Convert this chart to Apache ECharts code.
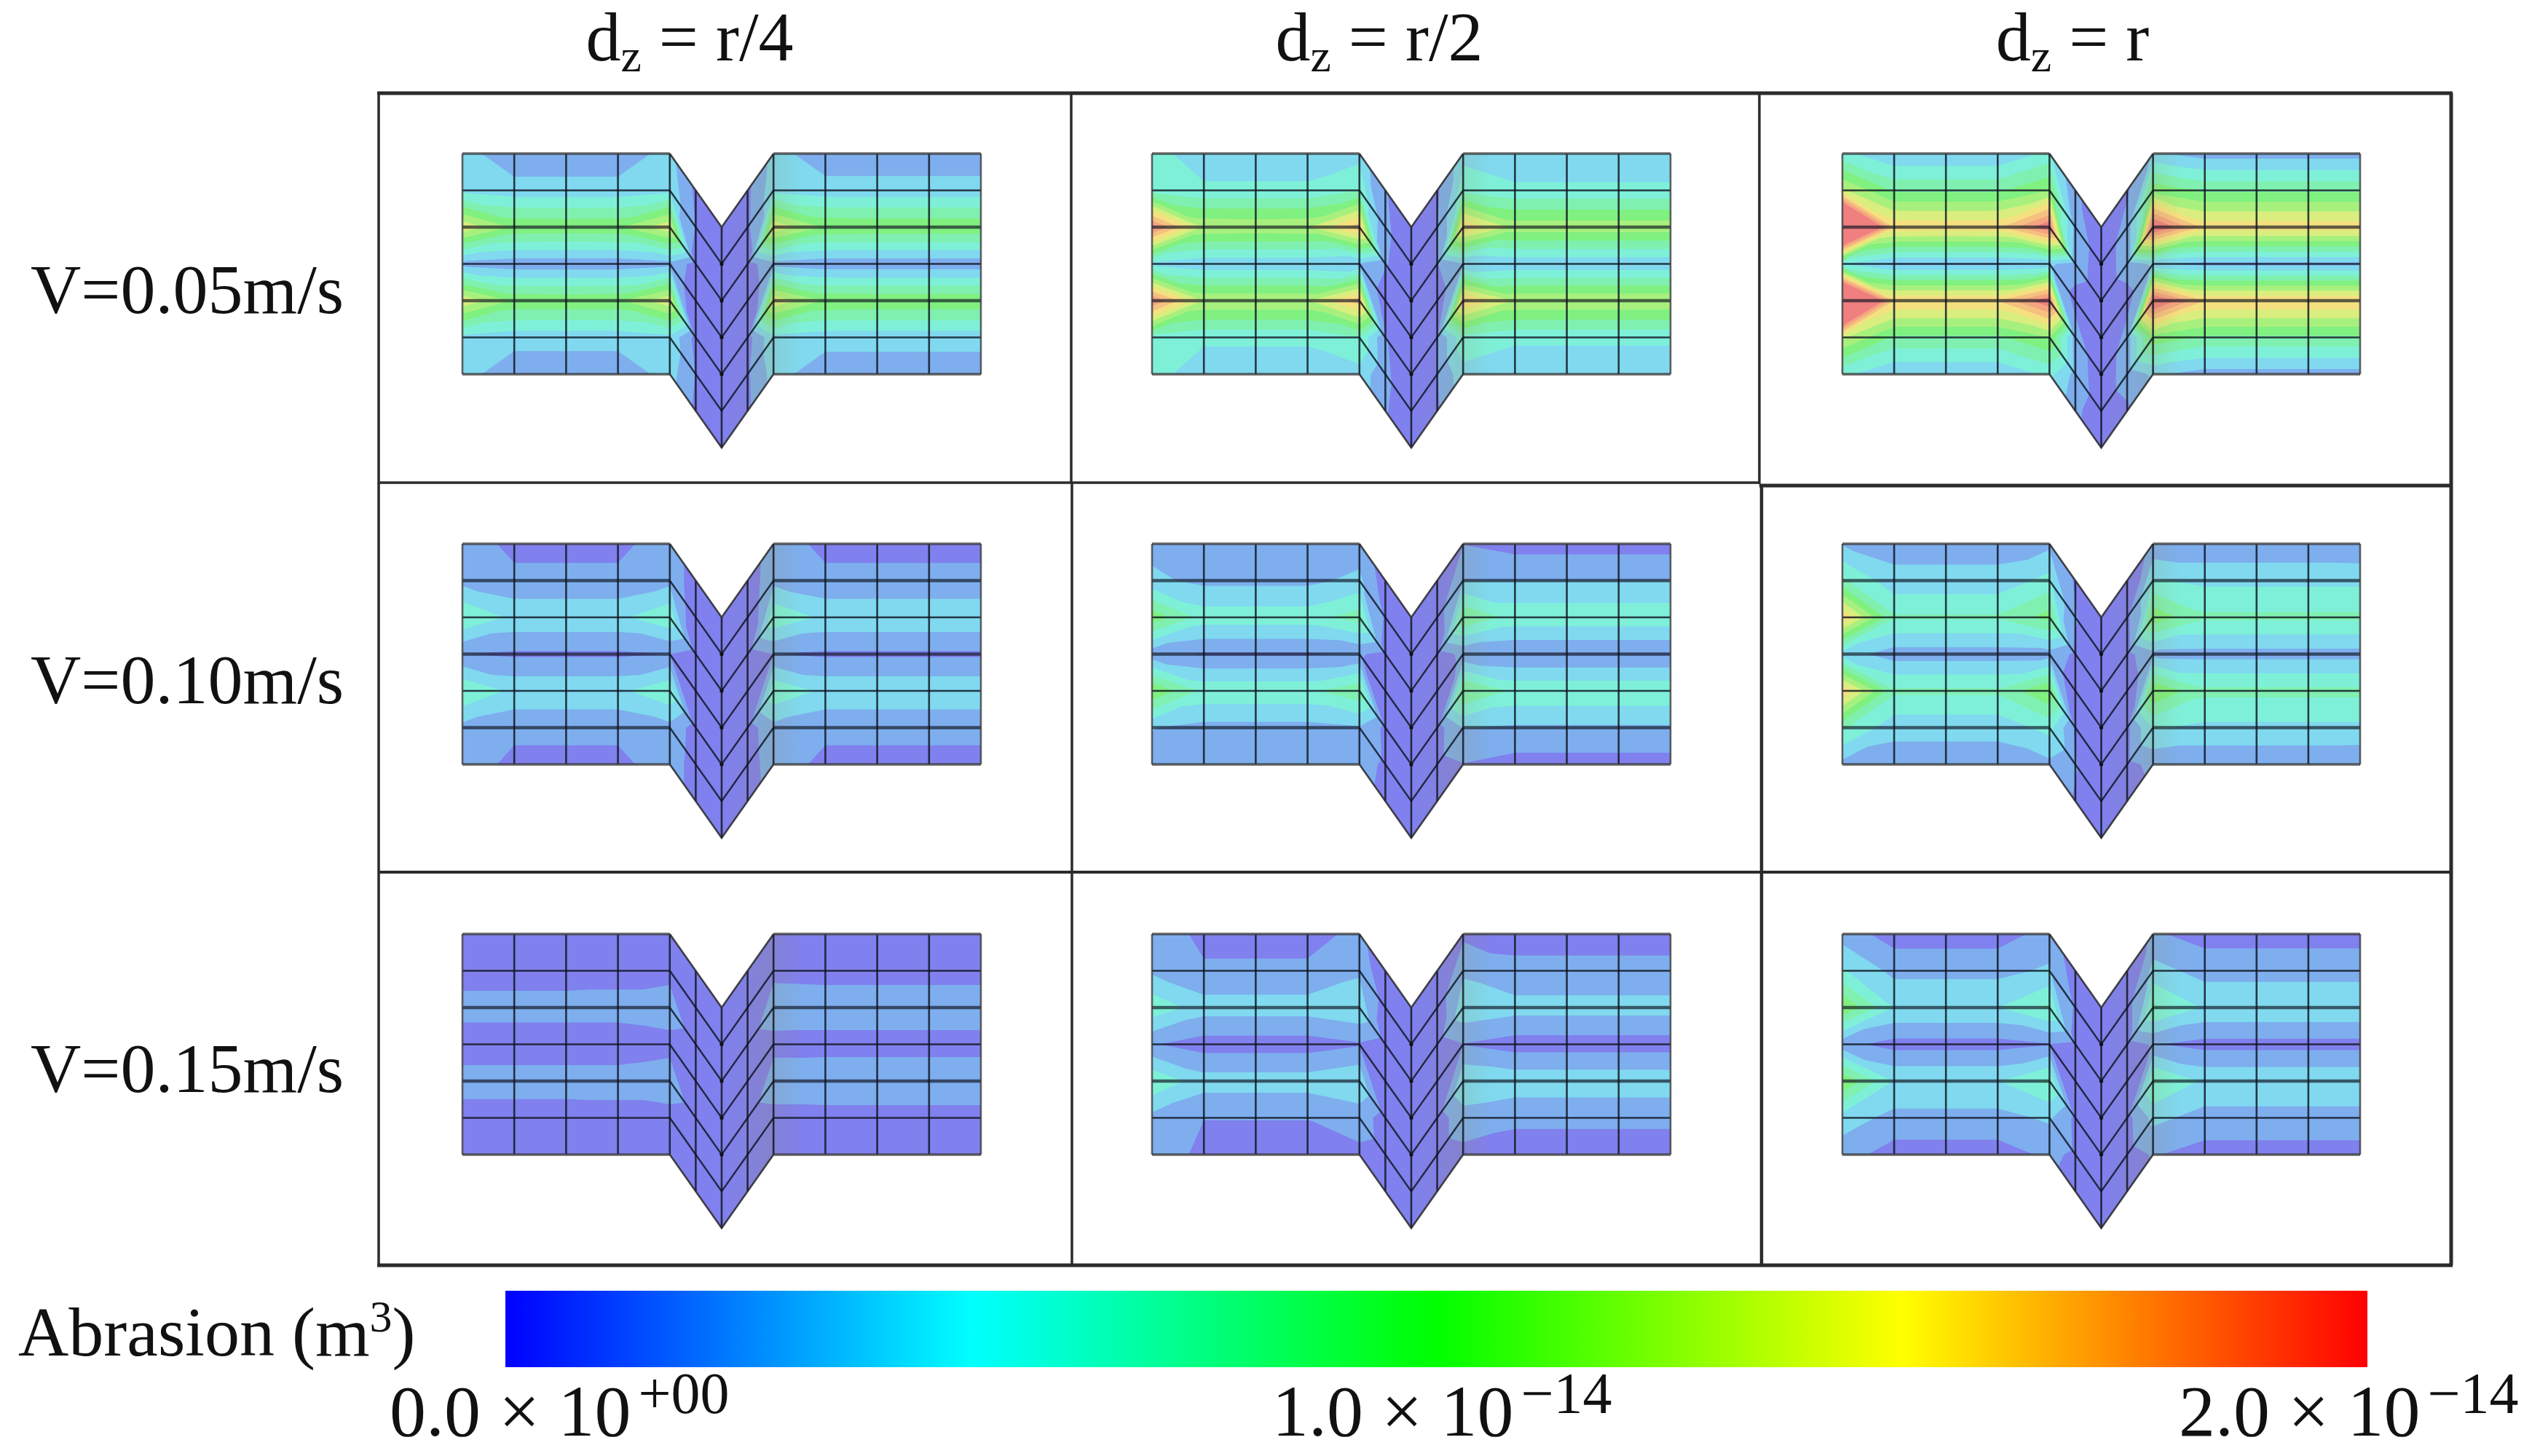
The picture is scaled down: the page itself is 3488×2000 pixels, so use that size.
<!DOCTYPE html>
<html>
<head>
<meta charset="utf-8">
<style>html,body{margin:0;padding:0;background:#fff}#c{width:3488px;height:2000px}</style>
<script src="https://cdn.jsdelivr.net/npm/echarts@6/dist/echarts.min.js"></script>
</head>
<body>
<div id="c"></div>
<script>
// ---------- labels ----------
const columnLabels = ['r/4', 'r/2', 'r'];
const rowLabels = ['V=0.05m/s', 'V=0.10m/s', 'V=0.15m/s'];
const legendTitle = 'Abrasion';
const colorbarTicks = [['0.0 × 10', '+00'], ['1.0 × 10', '−14'], ['2.0 × 10', '−14']];

// ---------- colour scale (abrasion in 1e-15 m^3) ----------
const scaleMax = 20;
const contourColors = ['#8080ee','#7eaeee','#80d9ef','#7ff0d8','#80f0b0','#80f080','#a8f07e','#d9ee7e','#f5e080','#f5c080','#f4a47f','#f08080'];
const colorbarStops = ['#0000ff','#00ffff','#00ff00','#ffff00','#ff0000'];

// ---------- mesh topology: node columns and the drop of each column at the V fold ----------
const meshU = [0,1,2,3,4,4.5,5,5.5,6,7,8,9,10];
const meshDrop = [0,0,0,0,0,1,2,1,0,0,0,0,0];

// ---------- nodal abrasion values, rows top to bottom, ×1e-15 m^3 ----------
const v005_r4 = [
 [4.0,2.2,2.2,2.2,4.0,1.3,.4,1.3,4.0,2.3,2.3,2.3,2.3],
 [4.6,4.0,4.0,4.0,4.6,1.6,.5,1.4,4.6,4.0,4.0,4.0,4.0],
 [13,9.7,9.6,9.7,13,1.1,.4,1.0,13,9.8,9.7,9.7,9.7],
 [2.8,2.2,2.2,2.2,2.8,.7,.3,.7,2.8,2.2,2.2,2.2,2.2],
 [13,9.7,9.6,9.7,13,1.1,.4,1.0,13,9.8,9.7,9.7,9.7],
 [4.6,4.0,4.0,4.0,4.6,1.6,.5,1.4,4.6,4.0,4.0,4.0,4.0],
 [4.0,2.2,2.2,2.2,4.0,1.3,.4,1.3,4.0,2.3,2.3,2.3,2.3]];
const v005_r2 = [
 [5.8,3.8,3.8,3.8,4.4,1.8,.5,1.4,4.4,3.6,3.6,3.6,3.6],
 [6.2,5.4,5.4,5.4,6.6,2.0,.6,1.6,6.2,5.4,5.4,5.4,5.4],
 [19,11.4,11.3,11.4,16,1.8,.5,1.6,15,11,11,11,11],
 [4.6,3.7,3.7,3.7,3.2,.9,.3,.9,3.2,3.7,3.7,3.7,3.7],
 [18.5,11.5,11.5,11.5,16,1.8,.5,1.6,15.5,11.5,11.5,11.5,11.5],
 [6.2,5.4,5.4,5.4,6.6,2.0,.6,1.6,6.2,5.4,5.4,5.4,5.4],
 [5.8,3.8,3.8,3.8,4.4,1.8,.5,1.4,4.4,3.6,3.6,3.6,3.6]];
const v005_r1 = [
 [5.5,3.5,3.5,3.5,5.5,2.0,.6,1.4,3.6,2.6,2.6,2.6,2.6],
 [12,8,8,8,10,2.8,.7,2.4,9.5,8,8,8,8],
 [32,14.6,14.5,14.6,20,2.6,.6,2.4,21,14.4,14.4,14.4,14.4],
 [5,3,3,3,3.6,1,.3,1,3.6,2.8,2.8,2.8,2.8],
 [32,15,15,15,20,2.6,.6,2.4,21,15,15,15,15],
 [12,8,8,8,10,2.8,.7,2.4,9.5,8,8,8,8],
 [5.5,3.5,3.5,3.5,5.5,2.0,.6,1.4,3.6,2.6,2.6,2.6,2.6]];
const v010_r4 = [
 [2.6,1.2,1.2,1.2,2.6,.9,.3,.7,2.6,1.2,1.2,1.2,1.2],
 [2.8,2.1,2.1,2.1,2.8,.9,.3,.8,2.8,2.1,2.1,2.1,2.1],
 [6.6,4.6,4.6,4.6,6.4,1.0,.3,.9,6.4,4.6,4.6,4.6,4.6],
 [1.7,1.4,1.4,1.4,1.7,.5,.2,.5,1.7,1.4,1.4,1.4,1.4],
 [6.6,4.6,4.6,4.6,6.4,1.0,.3,.9,6.4,4.6,4.6,4.6,4.6],
 [2.8,2.1,2.1,2.1,2.8,.9,.3,.8,2.8,2.1,2.1,2.1,2.1],
 [2.6,1.2,1.2,1.2,2.6,.9,.3,.7,2.6,1.2,1.2,1.2,1.2]];
const v010_r2 = [
 [2.8,2.2,2.2,2.2,2.3,1.2,.3,.8,1.6,1.0,1.0,1.0,1.0],
 [3.7,2.9,2.9,2.9,3.8,1.5,.4,1.1,3.3,3.3,3.3,3.3,3.3],
 [9.5,5.9,5.9,5.9,7.5,1.3,.4,1.0,8.2,6.1,6.1,6.1,6.1],
 [2.2,1.5,1.5,1.5,1.8,.7,.2,.7,2.0,1.6,1.6,1.6,1.6],
 [10,6.2,6.2,6.2,8,1.3,.4,1.0,8.6,6.3,6.3,6.3,6.3],
 [3.4,2.8,2.8,2.8,3.2,1.4,.4,1.1,3.4,3.1,3.1,3.1,3.1],
 [2.8,2.2,2.2,2.2,2.3,1.2,.3,.8,1.6,1.0,1.0,1.0,1.0]];
const v010_r1 = [
 [3.2,2.6,2.6,2.6,2.9,1.5,.4,.9,2.0,2.0,2.0,2.0,1.9],
 [7,3.9,3.9,3.9,5.6,1.8,.5,1.3,5.2,4.6,4.6,4.6,4.6],
 [15,6.9,6.9,6.9,9,1.4,.4,1.2,9.5,7,7,7,7],
 [4.2,2.5,2.5,2.5,2.6,.8,.3,.8,2.8,2.7,2.7,2.7,2.7],
 [15,7,7,7,10,1.4,.4,1.2,10,7.1,7.1,7.1,7.1],
 [7,3.9,3.9,3.9,5.6,1.8,.5,1.3,5.2,4.6,4.6,4.6,4.6],
 [2.8,2.4,2.4,2.4,2.9,1.5,.4,.9,2.0,2.0,2.0,2.0,1.9]];
const v015_r4 = [
 [.9,.8,.8,.8,.9,.5,.2,.5,.9,.8,.8,.8,.8],
 [.8,.8,.8,.9,.9,.5,.2,.5,1,.9,.9,.9,.9],
 [2.4,2.4,2.4,2.4,2.9,.7,.2,.7,3.0,2.9,2.9,2.9,2.9],
 [.6,.6,.6,.6,.9,.4,.2,.4,.9,.9,.9,.9,.9],
 [2.5,2.5,2.5,2.5,3,.7,.2,.7,3,3.1,3.1,3.1,3.1],
 [.8,.8,.8,.9,.9,.5,.2,.5,.9,.9,.9,.9,.9],
 [.9,.8,.8,.8,.9,.5,.2,.5,.9,.8,.8,.8,.8]];
const v015_r2 = [
 [2.8,1.2,1.2,1.2,2.0,.9,.3,.7,1.3,1.2,1.2,1.2,1.2],
 [3.0,1.9,1.9,1.9,3.0,1.2,.4,1,3.0,2.0,2.0,2.0,2.0],
 [6.2,4.1,4.1,4.1,4.8,1,.3,.9,4.6,4,4,4,4],
 [1.8,.9,.9,.9,1.5,.6,.2,.6,1.6,.9,.9,.9,.9],
 [6.4,4.1,4.1,4.1,4.8,1,.3,.9,4.8,4.4,4.4,4.4,4.4],
 [2.8,1.7,1.7,1.7,2.4,1.1,.3,.9,2.6,2.0,2.0,2.0,2.0],
 [2.8,1.2,1.2,1.2,1.3,.8,.2,.7,1.2,.9,.9,.9,.9]];
const v015_r1 = [
 [2.6,.9,.9,.9,2.3,1.1,.3,.8,1.9,1,1,1,1],
 [5.2,2.85,2.85,2.85,3.6,1.5,.4,1.1,4,2.7,2.7,2.7,2.7],
 [10,4.95,4.95,4.95,7,1.3,.4,1.1,7,4.8,4.8,4.8,4.8],
 [2.2,1.05,1.05,1.05,1.6,.7,.2,.7,1.8,1.1,1.1,1.1,1.1],
 [10,4.9,4.9,4.9,7,1.3,.4,1.1,7,4.7,4.7,4.7,4.7],
 [4.2,2.8,2.8,2.8,3.6,1.4,.4,1,3.8,2.7,2.7,2.7,2.7],
 [2.4,.9,.9,.9,2,1,.3,.8,1.8,1,1,1,1]];
const panelValues = [
 [v005_r4, v005_r2, v005_r1],
 [v010_r4, v010_r2, v010_r1],
 [v015_r4, v015_r2, v015_r1]];

// ---------- layout ----------
const FONT = '"Liberation Serif"';
const panelLeft = [635, 1582, 2530];
const panelWidth = [712, 712, 711];
const panelTop = [211, 747, 1283];
const panelHeight = 404;
const thickRows = [[2,4],[1,3,5],[2,4]];
const headerX = [947, 1894, 2846];
const rowLabelY = [405, 941, 1475];
const bar = {left: 694, top: 1773, width: 2557, height: 105};
const tickX = [535, 1747, 2992];
const frameSegments = [
 // x1,y1,x2,y2,width
 [518,128,3368,128,5],[520,663,2417,663,3.5],[2416,667,3368,667,5],[520,1198,3368,1198,4],[518,1738,3368,1738,5],
 [520,128,520,1738,3.5],[1471,128,1471,663,3.5],[1472,663,1472,1738,3.5],[2416,128,2416,665,3.5],[2419,665,2419,1738,4.5],[3366,128,3366,1738,5]
];

// ---------- contour construction: each element is split into two linear triangles ----------
const bandStep = scaleMax / contourColors.length;
const bandOf = v => Math.max(0, Math.min(contourColors.length - 1, Math.floor(v / bandStep)));
const f = n => n.toFixed(1);
function poly(pts){
  let s = 'M' + f(pts[0][0]) + ' ' + f(pts[0][1]);
  for (let i = 1; i < pts.length; i++) s += 'L' + f(pts[i][0]) + ' ' + f(pts[i][1]);
  return s + 'Z';
}
function clipAbove(tri, t){
  const out = [];
  for (let i = 0; i < tri.length; i++){
    const a = tri[i], b = tri[(i + 1) % tri.length];
    const ain = a[2] >= t, bin = b[2] >= t;
    if (ain) out.push(a);
    if (ain !== bin){
      const k = (t - a[2]) / (b[2] - a[2]);
      out.push([a[0] + k * (b[0] - a[0]), a[1] + k * (b[1] - a[1]), t]);
    }
  }
  return out;
}
function addTri(paths, tri){
  const vs = tri.map(p => p[2]);
  const k0 = bandOf(Math.min.apply(null, vs)), k1 = bandOf(Math.max.apply(null, vs));
  for (let k = k0; k <= k1; k++){
    const pts = k === k0 ? tri : clipAbove(tri, k * bandStep);
    if (pts.length > 2) paths[k].push(poly(pts));
  }
}
function buildBands(nodes, vals){
  const paths = contourColors.map(() => []);
  for (let j = 0; j < vals.length - 1; j++){
    for (let i = 0; i < meshU.length - 1; i++){
      const pt = (jj,ii) => [nodes[jj][ii][0], nodes[jj][ii][1], vals[jj][ii]];
      const A = pt(j,i), B = pt(j,i+1), C = pt(j+1,i+1), D = pt(j+1,i);
      paths[0].push(poly([A,B,C,D]));
      if (Math.abs(A[2]-C[2]) <= Math.abs(B[2]-D[2])){ addTri(paths,[A,B,C]); addTri(paths,[A,C,D]); }
      else { addTri(paths,[A,B,D]); addTri(paths,[B,C,D]); }
    }
  }
  return paths.map(a => a.join(''));
}

// ---------- one custom series per panel ----------
function gradient(stops){
  return new echarts.graphic.LinearGradient(0,0,1,0, stops.map(s => ({offset:s[0], color:'rgba(150,140,70,'+s[1]+')'})));
}
const SHADE = {6:[[0,0],[1,.08]], 7:[[0,.1],[1,.2]], 8:[[0,.14],[.55,0],[1,0]]};
function panelRender(row, col){
  let cache = null;
  return function(params, api){
    const vals = panelValues[row][col];
    const nodes = vals.map((r,j) => meshU.map((u,i) => api.coord([u, j + meshDrop[i]])));
    if (!cache) cache = buildBands(nodes, vals);
    if (params.dataIndex < contourColors.length){
      const d = cache[params.dataIndex];
      if (!d) return null;
      return {type:'path', silent:true, shape:{pathData:d}, style:{fill:contourColors[params.dataIndex], stroke:null}};
    }
    const ch = [];
    Object.keys(SHADE).forEach(key => {
      const i = +key;
      ch.push({type:'polygon', silent:true, shape:{points:[nodes[0][i], nodes[0][i+1], nodes[6][i+1], nodes[6][i]]},
        style:{fill:gradient(SHADE[key]), stroke:null}});
    });
    const line = (pts,w,c) => ch.push({type:'polyline', silent:true, shape:{points:pts},
      style:{fill:null, stroke:c||'rgba(15,20,30,.82)', lineWidth:w, lineJoin:'miter'}});
    for (let j = 1; j < 6; j++){
      const thick = thickRows[row].indexOf(j) >= 0;
      const w = thick ? 4.4 : 2.6, c = thick ? 'rgba(15,20,30,.66)' : null;
      line(nodes[j].slice(0,5), w, c);
      line(nodes[j].slice(8), w, c);
      line(nodes[j].slice(4,9), 2.4);
    }
    for (let i = 0; i < meshU.length; i++){
      const edge = i === 0 || i === meshU.length - 1;
      line(nodes.map(r => r[i]), 2.6, edge ? 'rgba(60,60,60,.8)' : null);
    }
    line(nodes[0].slice(0,5), 3.6, 'rgba(60,60,60,.8)');
    line(nodes[0].slice(8), 3.6, 'rgba(60,60,60,.8)');
    line(nodes[0].slice(4,9), 2.6, 'rgba(40,40,40,.85)');
    line(nodes[6].slice(0,5), 3.6, 'rgba(60,60,60,.8)');
    line(nodes[6].slice(8), 3.6, 'rgba(60,60,60,.8)');
    line(nodes[6].slice(4,9), 2.6, 'rgba(40,40,40,.85)');
    for (let j = 1; j < 5; j++){
      ch.push({type:'circle', silent:true, shape:{cx:nodes[j][6][0], cy:nodes[j][6][1], r:2.6}, style:{fill:'#111'}});
    }
    return {type:'group', children:ch};
  };
}

const grids = [], xAxes = [], yAxes = [], series = [];
panelTop.forEach((top,row) => panelLeft.forEach((left,col) => {
  const idx = grids.length;
  grids.push({left:left, top:top, width:panelWidth[col], height:panelHeight, show:false});
  xAxes.push({type:'value', gridIndex:idx, min:0, max:meshU[meshU.length-1], show:false});
  yAxes.push({type:'value', gridIndex:idx, min:0, max:8, inverse:true, show:false});
  series.push({type:'custom', coordinateSystem:'cartesian2d', xAxisIndex:idx, yAxisIndex:idx,
    silent:true, animation:false, clip:false, renderItem:panelRender(row,col),
    data:contourColors.concat(['mesh']).map((c,i) => [0,0,i])});
}));

// colour bar on its own axis
const barIdx = grids.length;
grids.push({left:bar.left, top:bar.top, width:bar.width, height:bar.height, show:false});
xAxes.push({type:'value', gridIndex:barIdx, min:0, max:scaleMax, show:false});
yAxes.push({type:'value', gridIndex:barIdx, min:0, max:1, show:false});
series.push({type:'custom', coordinateSystem:'cartesian2d', xAxisIndex:barIdx, yAxisIndex:barIdx, silent:true, animation:false,
  renderItem:function(p, api){
    const a = api.coord([0,1]), b = api.coord([scaleMax,0]);
    return {type:'rect', shape:{x:a[0], y:a[1], width:b[0]-a[0], height:b[1]-a[1]},
      style:{fill:new echarts.graphic.LinearGradient(0,0,1,0, colorbarStops.map((c,i) => ({offset:i/(colorbarStops.length-1), color:c})))}};
  },
  data:[[0,0]]});

// ---------- text and frame ----------
const graphics = [];
frameSegments.forEach(s => graphics.push({type:'line', silent:true, z:5, shape:{x1:s[0],y1:s[1],x2:s[2],y2:s[3]},
  style:{stroke:'#2b2b2b', lineWidth:s[4]}}));
const main = {fontFamily:FONT, fontSize:96, lineHeight:110, fill:'#111'};
columnLabels.forEach((t,i) => graphics.push({type:'text', silent:true, x:headerX[i], y:58, z:6, style:{
  text:'{a|d}{b|z}{a| = ' + t + '}', textAlign:'center', textVerticalAlign:'middle',
  rich:{a:main, b:{fontFamily:FONT, fontSize:64, lineHeight:64, fill:'#111', verticalAlign:'bottom'}}}}));
rowLabels.forEach((t,i) => graphics.push({type:'text', silent:true, x:42, y:rowLabelY[i], z:6, style:{
  text:t, fontFamily:FONT, fontSize:96, fill:'#111', textAlign:'left', textVerticalAlign:'middle'}}));
graphics.push({type:'text', silent:true, x:25, y:1837, z:6, style:{
  text:'{a|' + legendTitle + ' (m}{s|3}{a|)}', textAlign:'left', textVerticalAlign:'middle',
  rich:{a:main, s:{fontFamily:FONT, fontSize:62, lineHeight:62, fill:'#111', verticalAlign:'top'}}}});
colorbarTicks.forEach((t,i) => graphics.push({type:'text', silent:true, x:tickX[i], y:1946, z:6, style:{
  text:'{n|' + t[0] + '}{s|' + t[1] + '}', textAlign:'left', textVerticalAlign:'middle',
  rich:{n:{fontFamily:FONT, fontSize:100, lineHeight:132, fill:'#111'},
        s:{fontFamily:FONT, fontSize:80, lineHeight:80, fill:'#111', verticalAlign:'top', padding:[0,0,0,10]}}}}));

const chart = echarts.init(document.getElementById('c'), null, {width:3488, height:2000});
chart.setOption({
  animation:false, backgroundColor:'#ffffff',
  grid:grids, xAxis:xAxes, yAxis:yAxes, series:series, graphic:{elements:graphics}
});
</script>
</body>
</html>
